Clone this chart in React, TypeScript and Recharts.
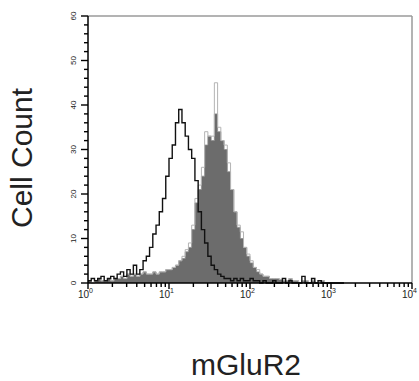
import {
  ComposedChart,
  Area,
  Line,
  XAxis,
  YAxis,
  ReferenceLine,
  Label,
} from "recharts";

// fluorescence channels: 25 per decade, 10^0 .. 10^4
const decadeTicks = [0, 25, 50, 75, 100];
const decadeLabels = ["0", "1", "2", "3", "4"];
const countTicks = [0, 2, 4, 6, 8, 10, 12, 14, 16, 18, 20, 22, 24, 26, 28, 30, 32, 34, 36, 38, 40, 42, 44, 46, 48, 50, 52, 54, 56, 58, 60];

// isotype control (black outline)
const isotype = [
  0.5, 1, 0.5, 1, 1.5, 0.5, 1, 1.5, 1, 2,
  2.5, 1.5, 3, 2, 4, 2, 3, 5, 6, 8,
  11, 13, 16, 19, 24, 28, 31, 36, 39, 36,
  33, 30, 28, 23, 16, 12, 9, 6, 4, 3,
  2, 1.5, 1, 1, 0.5, 1, 0.5, 1, 0.5, 0.5,
  1, 0.5, 0.5, 0, 0.5, 0, 0, 0.5, 0, 0,
  1, 0, 0.5, 0, 0, 0, 1.5, 0, 0, 1,
  0, 0.5, 0, 0, 0, 0, 0, 0, 0, 0,
];

// mGluR2 stained (dark fill)
const stained = [
  0.5, 0, 0.5, 1, 0.5, 0.5, 1, 0.5, 1, 1,
  1.5, 1, 2, 1.5, 2, 1.5, 2, 2.5, 2, 2,
  2.5, 2, 2.5, 2.5, 3, 3, 3.5, 4, 5, 5.5,
  7, 8, 12, 18, 21, 24, 31, 33, 32, 38,
  34, 32, 30, 25, 21, 16, 12.5, 10, 8, 6,
  4.5, 3.5, 2.5, 2, 1.5, 1.5, 1, 1, 1, 0.8,
  0.5, 0.5, 1, 0.5, 0.5, 0, 0.5, 0.5, 0, 0.5,
  0, 0, 0.5, 0, 0, 0, 0, 0, 0, 0,
];

// lighter edge of the stained histogram (spikes above the fill)
const stainedEdge = [
  0.5, 0, 0.5, 1, 0.5, 0.5, 1, 0.5, 1, 1,
  1.5, 1, 2, 1.5, 2, 1.5, 2, 2.5, 2, 2,
  2.5, 2, 2.5, 2.5, 3, 3, 3.5, 4, 5, 6,
  7.5, 9, 13, 19, 22, 26, 34, 33, 33, 45,
  35, 32, 31, 27, 21, 16, 13, 11.5, 8, 6.5,
  5, 3.5, 3, 2, 1.5, 1.5, 1, 1, 1, 0.8,
  0.5, 0.5, 1, 0.5, 0.5, 0, 0.5, 0.5, 0, 0.5,
  0, 0, 0.5, 0, 0, 0, 0, 0, 0, 0,
];

const data = isotype.map((v, i) => ({
  ch: i,
  isotype: v,
  stained: stained[i],
  edge: stainedEdge[i],
}));

const minorX: number[] = [];
for (let d = 0; d < 4; d++) {
  for (let k = 2; k <= 9; k++) minorX.push(d * 25 + 25 * Math.log10(k));
}
const xTicks = [...decadeTicks, ...minorX].sort((a, b) => a - b);

const font = "'Liberation Sans', Arial, sans-serif";

const XTick = (props: any) => {
  const { x, y, payload } = props;
  const idx = decadeTicks.indexOf(payload.value);
  const major = idx >= 0;
  return (
    <g>
      <rect x={x - 0.7} y={y} width={1.4} height={major ? 6 : 4} fill="#000" />
      {major && (
        <text fontFamily={font} fill="#222">
          <tspan x={x + 1} y={y + 15} fontSize={10} textAnchor="end">10</tspan>
          <tspan x={x + 1} y={y + 10} fontSize={7} textAnchor="start">{decadeLabels[idx]}</tspan>
        </text>
      )}
    </g>
  );
};

const YTick = (props: any) => {
  const { x, y, payload } = props;
  const major = payload.value % 10 === 0;
  const len = major ? 7 : 4;
  return (
    <g>
      <rect x={x - len} y={y - 0.7} width={len} height={1.4} fill="#000" />
      {major && (
        <text
          x={x - 12}
          y={y}
          transform={`rotate(-90, ${x - 12}, ${y})`}
          textAnchor="middle"
          fontSize={8}
          fontFamily={font}
          fill="#222"
        >
          {payload.value}
        </text>
      )}
    </g>
  );
};

export default function App() {
  return (
    <div style={{ position: "absolute", left: 0, top: 0, width: 419, height: 381, background: "#fff" }}>
      <ComposedChart width={419} height={381} data={data} margin={{ top: 16, right: 7, bottom: 0, left: 0 }}>
        <XAxis
          type="number"
          dataKey="ch"
          domain={[0, 100]}
          ticks={xTicks}
          interval={0}
          height={98}
          tickSize={0}
          tickMargin={0}
          tickLine={false}
          tick={<XTick />}
          axisLine={{ stroke: "#000", strokeWidth: 1.5 }}
        >
          <Label
            content={() => (
              <text x={246} y={375} textAnchor="middle" fontSize={30} fontFamily={font} fill="#222">
                mGluR2
              </text>
            )}
          />
        </XAxis>
        <YAxis
          type="number"
          domain={[0, 60]}
          ticks={countTicks}
          interval={0}
          width={88}
          tickSize={0}
          tickMargin={0}
          tickLine={false}
          tick={<YTick />}
          axisLine={{ stroke: "#000", strokeWidth: 1.5 }}
        >
          <Label
            content={() => (
              <text
                x={32}
                y={158}
                transform="rotate(-90, 32, 158)"
                textAnchor="middle"
                fontSize={30}
                fontFamily={font}
                fill="#222"
              >
                Cell Count
              </text>
            )}
          />
        </YAxis>
        <ReferenceLine y={60} stroke="#9a9a9a" strokeWidth={1.5} />
        <ReferenceLine x={100} stroke="#9a9a9a" strokeWidth={1.5} />
        <Line
          type="stepAfter"
          dataKey="edge"
          stroke="#b4b4b4"
          strokeWidth={1}
          dot={false}
          isAnimationActive={false}
        />
        <Area
          type="stepAfter"
          dataKey="stained"
          stroke="#8a8a8a"
          strokeWidth={0.8}
          fill="#6c6c6c"
          fillOpacity={1}
          isAnimationActive={false}
        />
        <Line
          type="stepAfter"
          dataKey="isotype"
          stroke="#111"
          strokeWidth={1.4}
          dot={false}
          isAnimationActive={false}
        />
      </ComposedChart>
    </div>
  );
}
